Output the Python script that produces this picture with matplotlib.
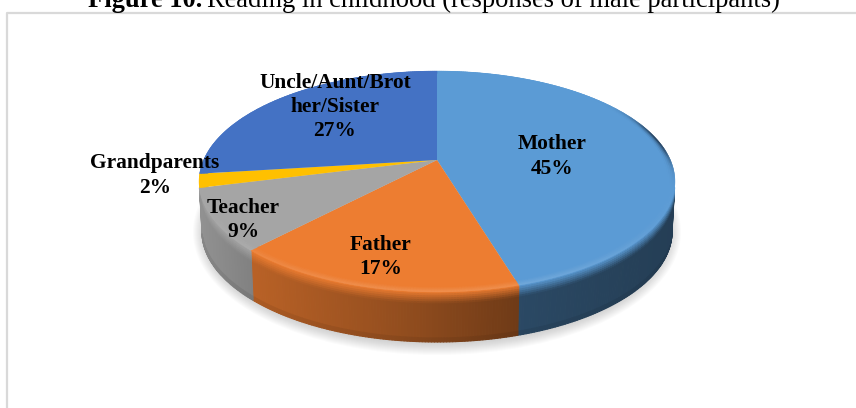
#! /usr/bin/python3

import numpy as np
import matplotlib
matplotlib.use("Agg")
import matplotlib.pyplot as plt
from matplotlib.collections import PolyCollection
from matplotlib.colors import to_rgb
from matplotlib.patches import Ellipse

# data
labels = ["Mother", "Father", "Teacher", "Grandparents", "Uncle/Aunt/Brot\nher/Sister"]
values = [45.4, 16.6, 9, 2, 27]
colors = ["#5B9BD5", "#ED7D31", "#A5A5A5", "#FFC000", "#4472C4"]
label_pos = [(552, 156.5), (381, 257), (243, 220), (155, 175.5), (335, 107)]

# pie geometry in image pixels, the pie is drawn in perspective
cx, cy = 437, 160
k = 0.1946
A = 106.3
B = 233.4
depth = 50
serif = "Liberation Serif"


def project(t, r=1.0, d=0.0):
    # t is the angle clockwise from 12 o'clock, d goes down the side of the pie
    u, v = r * np.sin(t), r * np.cos(t)
    w = 1 + k * v
    shrink = 1 - 0.012 * d / depth
    return cx + shrink * B * u / w, cy - A * v / w + d


def side_shade(x):
    return np.interp(x, [200, 252, 400, 517, 675], [0.88, 0.78, 0.62, 0.47, 0.40])


def mix(a, b, f):
    return tuple((1 - f) * np.array(a) + f * np.array(b))


fig = plt.figure(figsize=(8.56, 4.08), dpi=100)
ax = fig.add_axes([0, 0, 1, 1])
ax.set_xlim(0, 856)
ax.set_ylim(408, 0)
ax.axis("off")

# frame of the chart area
ax.plot([7, 7, 860], [412, 13, 13], color="#d9d9d9", lw=1.6, zorder=1)

# soft shadow under the pie
for i in range(14):
    ax.add_patch(Ellipse((437, 232), 2 * (244 - i), 2 * (123 - i), color="#808080",
                         alpha=0.032, lw=0, zorder=2))

edges = 2 * np.pi * np.concatenate([[0], np.cumsum(values)]) / sum(values)

# side wall, only the front part of the pie shows one
levels = [0, 2, 4, 6, 8, 10, 12, 46, 48, 50]
quads, quad_cols = [], []
for i, col in enumerate(colors):
    base = to_rgb(col)
    ts = np.linspace(edges[i], edges[i + 1], int(max(4, values[i] * 6)))
    for t0, t1 in zip(ts[:-1], ts[1:]):
        if np.cos((t0 + t1) / 2) > -0.247:
            continue
        for d0, d1 in zip(levels[:-1], levels[1:]):
            x0, y0 = project(t0, d=d0)
            x1, y1 = project(t1, d=d0)
            x2, y2 = project(t1, d=d1)
            x3, y3 = project(t0, d=d1)
            s = side_shade((x0 + x1) / 2)
            dark = tuple(s * c for c in base)
            f = min(1.0, (d0 + d1) / 2 / 12)
            c = mix(base, dark, f)
            if d0 >= 46:
                c = tuple(0.93 * q for q in dark)
            quads.append([(x0, y0), (x1, y1), (x2, y2), (x3, y3)])
            quad_cols.append(c)
ax.add_collection(PolyCollection(quads, facecolors=quad_cols, edgecolors=quad_cols,
                                 linewidths=0.8, zorder=3))

# top face
for i, col in enumerate(colors):
    ts = np.linspace(edges[i], edges[i + 1], 80)
    x, y = project(ts)
    ax.fill(np.r_[cx, x], np.r_[cy, y], color=col, lw=0, zorder=4)

# bevel round the rim, light at the front and dark on the right
quads, quad_cols = [], []
radii = np.linspace(0.965, 1.0, 6)
for i, col in enumerate(colors):
    base = to_rgb(col)
    ts = np.linspace(edges[i], edges[i + 1], int(max(4, values[i] * 6)))
    for t0, t1 in zip(ts[:-1], ts[1:]):
        tm = (t0 + t1) / 2
        for j, (r0, r1) in enumerate(zip(radii[:-1], radii[1:])):
            x0, y0 = project(t0, r0)
            x1, y1 = project(t1, r0)
            x2, y2 = project(t1, r1)
            x3, y3 = project(t0, r1)
            right = max(0.0, np.sin(tm + 0.2)) ** 40 * (1 if tm < np.pi else 0)
            front = max(0.0, -np.cos(tm)) ** 2
            c = mix(base, (1, 1, 1), 0.14 * front * (j / 4))
            c = mix(c, (0.1, 0.17, 0.25), 0.8 * right * (j / 4) ** 2)
            quads.append([(x0, y0), (x1, y1), (x2, y2), (x3, y3)])
            quad_cols.append(c)
ax.add_collection(PolyCollection(quads, facecolors=quad_cols, edgecolors=quad_cols,
                                 linewidths=0.3, zorder=5))

# data labels
for lab, val, pos in zip(labels, values, label_pos):
    ax.text(pos[0], pos[1], "%s\n%.0f%%" % (lab, val), ha="center", va="center",
            family=serif, weight="bold", fontsize=15.4, linespacing=1.3,
            color="black", zorder=6)

# title, clipped by the top of the image
t1 = ax.text(88, 7, "Figure 10.", family=serif, weight="bold", fontsize=19.1,
             va="baseline", ha="left", color="black", zorder=6)
fig.canvas.draw()
x_end = t1.get_window_extent().x1
ax.text(x_end + 5, 7, "Reading in childhood (responses of male participants)",
        family=serif, fontsize=19.1, va="baseline", ha="left", color="black", zorder=6)

fig.savefig("out.png", dpi=100)
